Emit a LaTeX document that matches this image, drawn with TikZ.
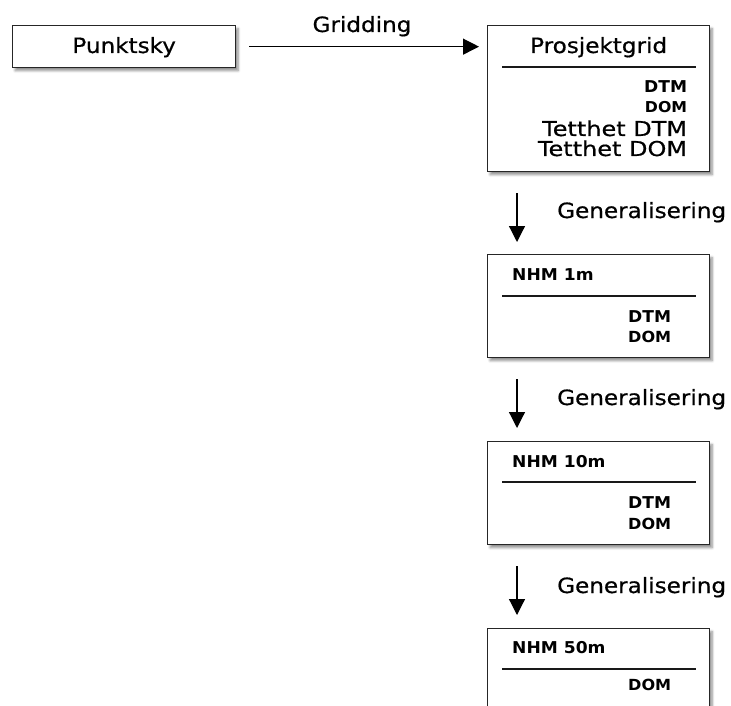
\documentclass[tikz,border=0pt]{standalone}
\usepackage{fontspec}
\setmainfont{DejaVu Sans}
\newfontfamily\regf{DejaVu Sans}[FakeStretch=1.1, FakeBold=0.6]
\newfontfamily\regw{DejaVu Sans}[FakeStretch=1.17, FakeBold=0.6]
\newfontfamily\boldf{DejaVu Sans}[FakeStretch=1.05]
\usetikzlibrary{arrows.meta,shadows.blur,calc}
\begin{document}
\begin{tikzpicture}[x=1pt,y=-1pt,
  box/.style={draw=black!85, line width=1.3pt, fill=white,
    blur shadow={shadow xshift=2.5pt, shadow yshift=-3pt, shadow blur steps=6,
      shadow opacity=45, shadow blur radius=2.5pt},
    anchor=north west, inner sep=0pt, minimum width=222pt},
  reg/.style={inner sep=0pt, font=\regf\fontsize{21}{24}\selectfont},
  regwide/.style={inner sep=0pt, font=\regw\fontsize{20.5}{22}\selectfont},
  bsm/.style={inner sep=0pt, font=\boldf\bfseries\fontsize{16.3}{19}\selectfont},
  dsm/.style={inner sep=0pt, font=\boldf\bfseries\fontsize{15.3}{18}\selectfont},
  rule/.style={line width=1.1pt, draw=black!90},
  arr/.style={line width=1.2pt, -{Triangle[length=16pt,width=16pt]}}
]
\useasboundingbox (0,0) rectangle (731,706);
\clip (0,0) rectangle (731,706);

% boxes
\node[box, minimum width=223pt, minimum height=42pt] (pk) at (12,25) {};
\node[box, minimum height=146pt] (pg) at (487,25) {};
\node[box, minimum height=103pt] (n1) at (487,254) {};
\node[box, minimum height=103pt] (n10) at (487,441) {};
\node[box, minimum height=103pt] (n50) at (487,628) {};

% Punktsky
\node[reg, anchor=base] (pkt) at ($(pk.north)+(0,28)$) {Punktsky};

% Gridding arrow
\draw[arr, shorten <=13pt, shorten >=8pt] (pk.east) -- (pk.east -| pg.west);
\node[reg, anchor=base] (grl) at (362,32) {Gridding};

% Prosjektgrid
\node[reg, anchor=base] (pgt) at ($(pg.north)+(0,28)$) {Prosjektgrid};
\draw[rule] ($(pg.north west)+(15,42)$) -- ($(pg.north east)+(-14,42)$);
\node[bsm, anchor=base east] (pg1) at ($(pg.north east)+(-23,68)$) {DTM};
\node[dsm, anchor=base east, font=\boldf\bfseries\fontsize{15}{17}\selectfont] (pg2) at ($(pg.north east)+(-23,88)$) {DOM};
\node[regwide, anchor=base east] (pg3) at ($(pg.north east)+(-23,111)$) {Tetthet DTM};
\node[regwide, anchor=base east] (pg4) at ($(pg.north east)+(-23,131)$) {Tetthet DOM};

% NHM 1m
\node[bsm, anchor=base west] (n1t) at ($(n1.north west)+(25,26)$) {NHM 1m};
\draw[rule] ($(n1.north west)+(15,42)$) -- ($(n1.north east)+(-14,42)$);
\node[bsm, anchor=base west] (n1a) at ($(n1.north west)+(141,68)$) {DTM};
\node[dsm, anchor=base west] (n1b) at ($(n1.north west)+(141,88)$) {DOM};

% NHM 10m
\node[bsm, anchor=base west] (n10t) at ($(n10.north west)+(25,26)$) {NHM 10m};
\draw[rule] ($(n10.north west)+(15,41)$) -- ($(n10.north east)+(-14,41)$);
\node[bsm, anchor=base west] (n10a) at ($(n10.north west)+(141,67)$) {DTM};
\node[dsm, anchor=base west] (n10b) at ($(n10.north west)+(141,88)$) {DOM};

% NHM 50m
\node[bsm, anchor=base west] (n50t) at ($(n50.north west)+(25,25)$) {NHM 50m};
\draw[rule] ($(n50.north west)+(15,41)$) -- ($(n50.north east)+(-14,41)$);
\node[dsm, anchor=base west] (n50b) at ($(n50.north west)+(141,62)$) {DOM};

% vertical arrows
\coordinate (a1s) at ($(pg.south west)+(30,21)$);
\coordinate (a1e) at ($(n1.north west)+(30,-12)$);
\coordinate (a2s) at ($(n1.south west)+(30,21)$);
\coordinate (a2e) at ($(n10.north west)+(30,-13)$);
\coordinate (a3s) at ($(n10.south west)+(30,21)$);
\coordinate (a3e) at ($(n50.north west)+(30,-13)$);
\draw[arr] (a1s) -- (a1e);
\draw[arr] (a2s) -- (a2e);
\draw[arr] (a3s) -- (a3e);
\node[reg, anchor=base west] (g1) at ($(n1.north west)+(70,-36)$) {Generalisering};
\node[reg, anchor=base west] (g2) at ($(n10.north west)+(70,-36)$) {Generalisering};
\node[reg, anchor=base west] (g3) at ($(n50.north west)+(70,-35)$) {Generalisering};
\end{tikzpicture}
\end{document}
